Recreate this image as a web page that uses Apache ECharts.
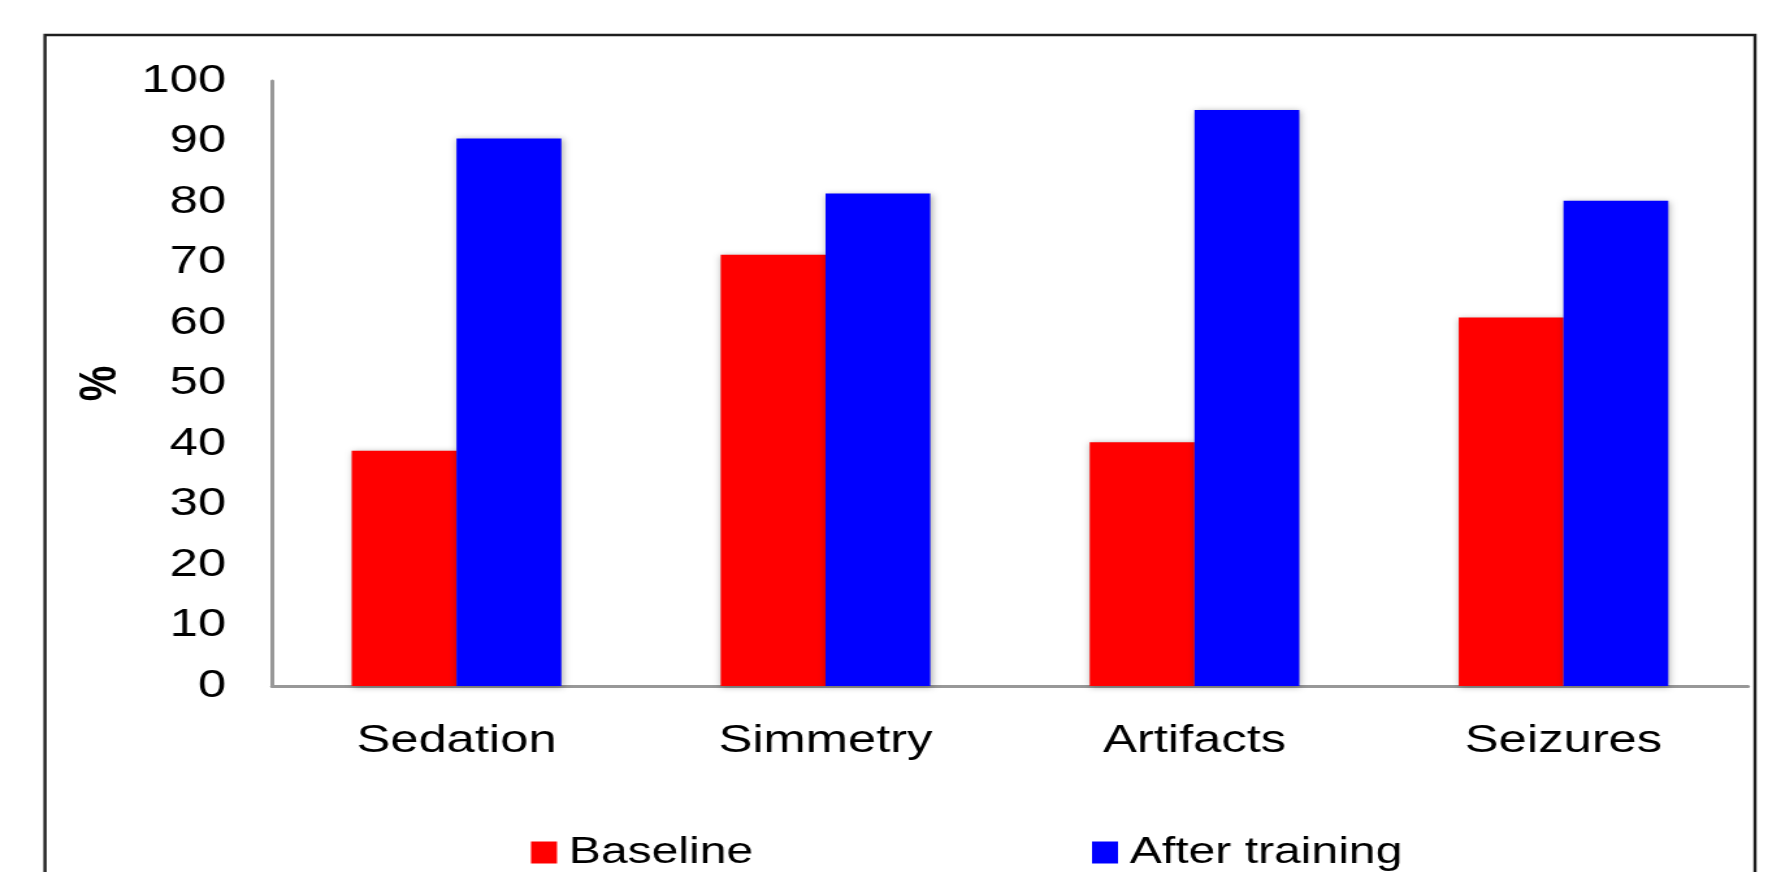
<!DOCTYPE html>
<html>
<head>
<meta charset="utf-8">
<title>Baseline vs After training</title>
<script src="https://cdn.jsdelivr.net/npm/echarts@6/dist/echarts.min.js"></script>
<style>
  html, body { margin: 0; padding: 0; background: #ffffff; overflow: hidden; }
  #wrap { width: 1787px; height: 872px; overflow: hidden; position: relative; }
  #chart { position: absolute; left: 0; top: 0; height: 872px; transform-origin: 0 0; }
</style>
</head>
<body>
<div id="wrap"><div id="chart"></div></div>
<script>
// Chart data
const categories = ['Sedation', 'Simmetry', 'Artifacts', 'Seizures'];
const baseline = [38.9, 71.3, 40.3, 60.9];
const afterTraining = [90.5, 81.4, 95.2, 80.2];
const seriesNames = ['Baseline', 'After training'];
const yTicks = { min: 0, max: 100, interval: 10 };

// The figure is drawn narrow and widened horizontally, giving its wide lettering.
const S = 1.3;
const W = 1787, H = 872;
const sx = v => v / S;

const el = document.getElementById('chart');
el.style.width = sx(W) + 'px';
el.style.transform = 'scaleX(' + S + ')';

const FONT = '"Liberation Sans", Arial, Helvetica, sans-serif';
const axisGray = '#989898';

const chart = echarts.init(el, null, { renderer: 'canvas' });

const legendCommon = {
  orient: 'horizontal',
  top: 834,
  padding: 0,
  itemWidth: sx(26),
  itemHeight: 22,
  icon: 'rect',
  selectedMode: false,
  textStyle: { fontFamily: FONT, fontSize: 37, color: '#000', padding: [8, 0, 0, 4] }
};

chart.setOption({
  backgroundColor: '#ffffff',
  animation: false,
  textStyle: { fontFamily: FONT },
  graphic: [{
    type: 'rect',
    shape: { x: sx(45), y: 35, width: sx(1755 - 45), height: 900 },
    style: { fill: null, stroke: '#1e1e1e', lineWidth: 2.4 },
    silent: true,
    z: -1
  }],
  grid: {
    left: sx(272),
    top: 81,
    width: sx(1476),
    height: 605,
    containLabel: false,
    outerBoundsMode: 'none'
  },
  legend: [
    Object.assign({ data: [seriesNames[0]], left: sx(531) }, legendCommon),
    Object.assign({ data: [seriesNames[1]], left: sx(1092) }, legendCommon)
  ],
  xAxis: {
    type: 'category',
    data: categories,
    axisLine: { show: true, lineStyle: { color: axisGray, width: 3 } },
    axisTick: { show: false },
    axisLabel: { fontFamily: FONT, fontSize: 39, color: '#000', margin: 36 },
    splitLine: { show: false }
  },
  yAxis: {
    type: 'value',
    min: yTicks.min,
    max: yTicks.max,
    interval: yTicks.interval,
    name: '%',
    nameLocation: 'middle',
    nameRotate: 90,
    nameGap: 106,
    nameTextStyle: { fontFamily: FONT, fontSize: 40, fontWeight: 'bold', color: '#000' },
    axisLine: { show: true, lineStyle: { color: axisGray, width: 3 } },
    axisTick: { show: false },
    axisLabel: { fontFamily: FONT, fontSize: 39, color: '#000', margin: sx(46) },
    splitLine: { show: false }
  },
  series: [
    {
      name: seriesNames[0],
      type: 'bar',
      data: baseline,
      barWidth: '28.4%',
      barGap: '0%',
      itemStyle: {
        color: '#ff0000',
        shadowBlur: 6,
        shadowColor: 'rgba(0,0,0,0.35)',
        shadowOffsetX: 1,
        shadowOffsetY: 1
      }
    },
    {
      name: seriesNames[1],
      type: 'bar',
      data: afterTraining,
      barWidth: '28.4%',
      barGap: '0%',
      itemStyle: {
        color: '#0000ff',
        shadowBlur: 6,
        shadowColor: 'rgba(0,0,0,0.35)',
        shadowOffsetX: 1,
        shadowOffsetY: 1
      }
    }
  ]
});
</script>
</body>
</html>
